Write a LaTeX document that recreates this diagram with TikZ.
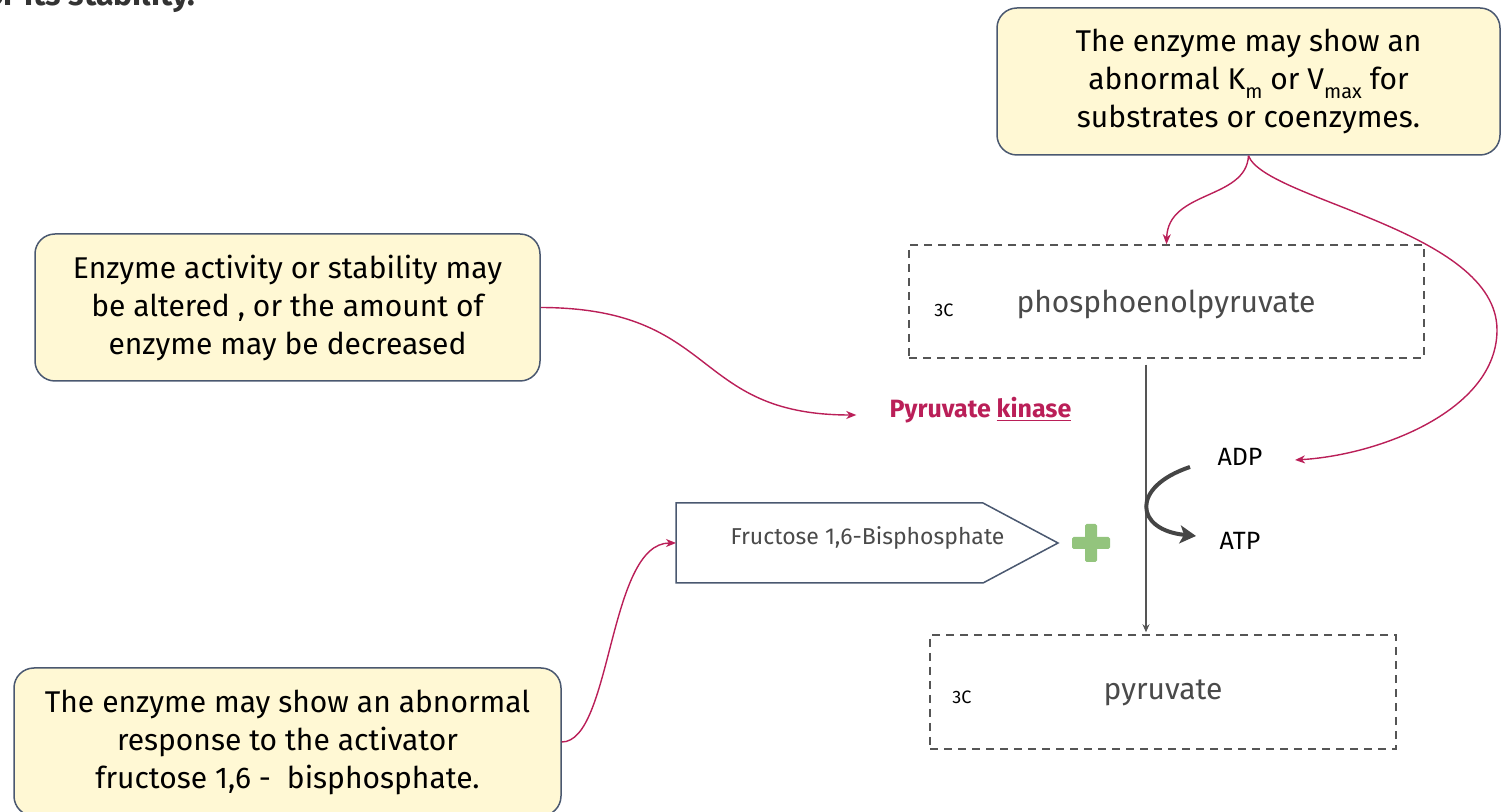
\documentclass[tikz,border=0pt]{standalone}
\usepackage{fontspec}
\setmainfont{Fira Sans}
\usetikzlibrary{arrows.meta,calc}
\definecolor{notefill}{HTML}{FFF8D4}
\definecolor{noteedge}{HTML}{4A5870}
\definecolor{link}{HTML}{BA1F58}
\definecolor{ink}{HTML}{454545}
\definecolor{headink}{HTML}{333333}
\definecolor{dashgray}{HTML}{555555}
\definecolor{plusgreen}{HTML}{93C47D}
\definecolor{labelgray}{HTML}{4A4A4A}

\newcommand{\lowsub}[1]{\raisebox{-0.55ex}{\fontsize{10}{10}\selectfont #1}}

\begin{document}
\begin{tikzpicture}[x=0.5pt,y=-0.5pt,
  note/.style={draw=noteedge, fill=notefill, rounded corners=10pt, line width=0.75pt,
    align=center, inner sep=0pt, font=\fontsize{15}{19}\selectfont},
  metabox/.style={draw=dashgray, dashed, dash pattern=on 4pt off 3pt, line width=0.75pt,
    inner sep=0pt},
  carbons/.style={font=\fontsize{9}{10}\selectfont, inner sep=0pt},
  metabolite/.style={font=\fontsize{15}{18}\selectfont, text=labelgray, inner sep=0pt},
  cofactor/.style={font=\fontsize{12.5}{14}\selectfont, inner sep=1pt},
  effect/.style={draw=link, line width=0.7pt, -{Stealth[length=5pt,width=4pt,inset=1.5pt]}},
]
\useasboundingbox (0,0) rectangle (1501,812);

% line of text running off the top edge
\node[anchor=base east, inner sep=0pt, text=headink, font=\bfseries\fontsize{16}{19}\selectfont]
  (topline) at (196,6) {or its stability.};

% explanatory notes
\node[note, minimum width=252.5pt, minimum height=73.5pt] (noteA) at (287.5,307.5)
  {Enzyme activity or stability may\\be altered , or the amount of\\enzyme may be decreased};
\node[note, minimum width=251.5pt, minimum height=73.5pt] (noteB) at (1248.5,81.5)
  {The enzyme may show an\\abnormal K\lowsub{m} or V\lowsub{max} for\\substrates or coenzymes.};
\node[note, minimum width=273.5pt, minimum height=74pt] (noteC) at (287.5,742)
  {The enzyme may show an abnormal\\response to the activator\\fructose 1,6 -\ \ bisphosphate.};

% metabolites
\node[metabox, minimum width=257.5pt, minimum height=56.5pt] (pep) at (1166.5,301.5) {};
\node[carbons] (pepc) at (944,310) {3C};
\node[metabolite] (peplabel) at (1166,304) {phosphoenolpyruvate};

\node[metabox, minimum width=233pt, minimum height=57pt] (pyr) at (1163,692) {};
\node[carbons] (pyrc) at (962,697) {3C};
\node[metabolite] (pyrlabel) at (1163,693) {pyruvate};

% reaction arrow
\draw[dashgray, line width=0.75pt, -{Stealth[length=4pt,width=3.5pt]}]
  ($(pep.south)+(-20.5,6)$) -- ($(pyr.north)+(-17,-2)$);

% enzyme label
\node[text=link, font=\bfseries\fontsize{12.5}{14}\selectfont, inner sep=0pt] (kinase)
  at (980.5,410) {Pyruvate \underline{kinase}};

% cofactors
\node[cofactor] (adp) at (1240,457) {ADP};
\node[cofactor] (atp) at (1240,541) {ATP};
\coordinate (adpout) at ($(adp.center)+(-50,10)$);
\coordinate (atpin) at ($(atp.center)+(-44,-5)$);
\draw[ink, line width=2pt, -{Stealth[length=8pt,width=9pt,inset=2pt]}]
  (adpout) .. controls (1130,487) and (1135,530) .. (atpin);

% allosteric activator
\draw[noteedge, line width=0.75pt] (676,503) -- (983,503) -- (1058,543) -- (983,583)
  -- (676,583) -- cycle;
\coordinate (fbpin) at (676,543);
\node[text=labelgray, font=\fontsize{11.5}{13}\selectfont, inner sep=0pt] (fbp)
  at (867.5,538) {Fructose 1,6-Bisphosphate};
\fill[plusgreen, rounded corners=0.8pt] (1085,524) rectangle (1097,562);
\fill[plusgreen, rounded corners=0.8pt] (1072,537) rectangle (1110,549);

% links from the notes
\coordinate (kinasein) at ($(kinase.west)+(-33,5)$);
\coordinate (adpin) at ($(adp.center)+(55,3)$);
\draw[effect] (noteA.east) .. controls (720,308) and (690,415) .. (kinasein);
\draw[effect] (noteB.south) .. controls (1246,200) and (1168,190) .. (pep.north);
\draw[effect] (noteB.south) .. controls (1265,200) and (1497,230) .. (1497,330)
  .. controls (1497,410) and (1380,455) .. (adpin);
\draw[effect] (noteC.east) .. controls (612,742) and (608,543) .. (fbpin);
\end{tikzpicture}
\end{document}
